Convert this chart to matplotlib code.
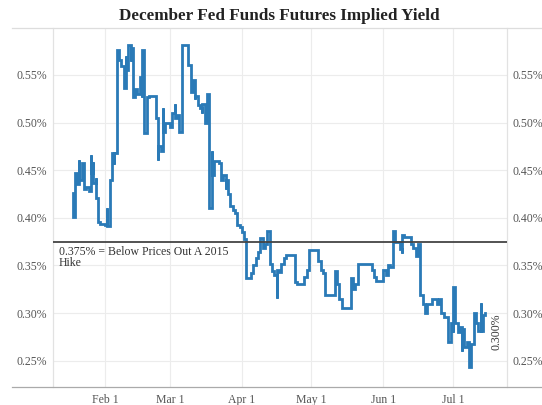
import matplotlib
matplotlib.use("Agg")
import matplotlib.pyplot as plt
from matplotlib.lines import Line2D
import pandas as pd

# December fed funds futures implied yield (%), 2015
dates = [
    "01-18", "01-18", "01-19", "01-19", "01-20", "01-21", "01-21", "01-22", "01-23", "01-24",
    "01-25", "01-26", "01-26", "01-27", "01-27", "01-28", "01-28", "01-29", "01-30", "01-31",
    "02-01", "02-02", "02-02", "02-03", "02-04", "02-04", "02-05", "02-05", "02-06", "02-07",
    "02-08", "02-09", "02-10", "02-10", "02-11", "02-12", "02-12", "02-13", "02-14", "02-15",
    "02-16", "02-16", "02-17", "02-17", "02-18", "02-18", "02-19", "02-19", "02-20", "02-21",
    "02-22", "02-23", "02-23", "02-24", "02-24", "02-25", "02-26", "02-26", "02-27", "03-01",
    "03-02", "03-03", "03-03", "03-04", "03-05", "03-06", "03-09", "03-09", "03-10", "03-10",
    "03-10", "03-11", "03-12", "03-12", "03-13", "03-14", "03-15", "03-15", "03-16", "03-17",
    "03-17", "03-18", "03-18", "03-19", "03-19", "03-20", "03-22", "03-23", "03-23", "03-24",
    "03-25", "03-25", "03-26", "03-27", "03-28", "03-29", "03-30", "03-30", "03-31", "04-01",
    "04-02", "04-03", "04-05", "04-06", "04-07", "04-08", "04-09", "04-10", "04-11", "04-12",
    "04-13", "04-14", "04-15", "04-16", "04-16", "04-17", "04-18", "04-19", "04-20", "04-21",
    "04-23", "04-24", "04-25", "04-27", "04-28", "04-29", "04-30", "05-03", "05-04", "05-05",
    "05-06", "05-07", "05-10", "05-11", "05-12", "05-13", "05-14", "05-17", "05-18", "05-19",
    "05-20", "05-21", "05-26", "05-27", "05-28", "05-29", "05-31", "06-01", "06-02", "06-03",
    "06-04", "06-05", "06-06", "06-08", "06-09", "06-09", "06-10", "06-12", "06-13", "06-14",
    "06-15", "06-16", "06-17", "06-17", "06-18", "06-19", "06-20", "06-22", "06-23", "06-24",
    "06-25", "06-26", "06-27", "06-28", "06-29", "06-30", "07-01", "07-01", "07-02", "07-03",
    "07-04", "07-05", "07-05", "07-06", "07-07", "07-08", "07-08", "07-09", "07-10", "07-11",
    "07-12", "07-13", "07-13", "07-14", "07-15",
]
yields = [
    0.426, 0.401, 0.430, 0.447, 0.435, 0.461, 0.440, 0.458, 0.430, 0.432,
    0.428, 0.466, 0.447, 0.459, 0.437, 0.442, 0.421, 0.396, 0.393, 0.393,
    0.392, 0.410, 0.391, 0.440, 0.452, 0.468, 0.456, 0.468, 0.576, 0.566,
    0.559, 0.536, 0.570, 0.555, 0.581, 0.565, 0.578, 0.527, 0.535, 0.530,
    0.540, 0.548, 0.527, 0.576, 0.555, 0.489, 0.515, 0.527, 0.528, 0.528,
    0.528, 0.520, 0.505, 0.461, 0.475, 0.470, 0.515, 0.490, 0.500, 0.495,
    0.510, 0.520, 0.505, 0.508, 0.490, 0.581, 0.581, 0.560, 0.545, 0.556,
    0.532, 0.545, 0.525, 0.528, 0.518, 0.515, 0.510, 0.520, 0.500, 0.515,
    0.530, 0.508, 0.410, 0.470, 0.445, 0.460, 0.458, 0.455, 0.440, 0.445,
    0.430, 0.440, 0.425, 0.412, 0.408, 0.405, 0.397, 0.392, 0.390, 0.385,
    0.378, 0.337, 0.342, 0.350, 0.358, 0.364, 0.379, 0.368, 0.372, 0.386,
    0.351, 0.344, 0.340, 0.316, 0.345, 0.343, 0.352, 0.358, 0.361, 0.361,
    0.361, 0.333, 0.331, 0.331, 0.338, 0.345, 0.366, 0.366, 0.355, 0.345,
    0.342, 0.319, 0.319, 0.344, 0.330, 0.315, 0.305, 0.305, 0.337, 0.325,
    0.330, 0.351, 0.351, 0.345, 0.338, 0.334, 0.334, 0.345, 0.340, 0.350,
    0.348, 0.386, 0.375, 0.367, 0.363, 0.382, 0.380, 0.380, 0.372, 0.368,
    0.360, 0.372, 0.372, 0.319, 0.310, 0.300, 0.310, 0.315, 0.315, 0.310,
    0.315, 0.300, 0.296, 0.296, 0.270, 0.290, 0.280, 0.327, 0.290, 0.280,
    0.285, 0.260, 0.283, 0.264, 0.270, 0.255, 0.243, 0.268, 0.300, 0.290,
    0.281, 0.311, 0.281, 0.298, 0.300,
]

hike_level = 0.375
hike_text = "0.375% = Below Prices Out A 2015\nHike"
y_ticks = [0.25, 0.30, 0.35, 0.40, 0.45, 0.50, 0.55]
month_ticks = ["2015-02-01", "2015-03-01", "2015-04-01", "2015-05-01", "2015-06-01", "2015-07-01"]
month_labels = ["Feb 1", "Mar 1", "Apr 1", "May 1", "Jun 1", "Jul 1"]

x = pd.to_datetime(["2015-" + d for d in dates])

plt.rcParams["font.family"] = ["Liberation Serif", "DejaVu Serif"]

fig = plt.figure(figsize=(5.42, 4.05), dpi=100)
ax = fig.add_axes([0.0978, 0.0452, 0.8376, 0.885])

ax.plot(x, yields, color="#2a7ab7", lw=2.0, drawstyle="steps-post",
        solid_joinstyle="miter", zorder=3)
ax.axhline(hike_level, color="#444444", lw=1.3, zorder=4)

ax.text(pd.Timestamp("2015-01-12"), hike_level - 0.0045, hike_text,
        ha="left", va="top", fontsize=8.5, color="#333333", linespacing=0.95)
ax.annotate(f"{yields[-1]:.3f}%", xy=(x[-1], yields[-1]), xytext=(3.5, 0),
            textcoords="offset points", rotation=90, ha="left", va="top",
            fontsize=8.5, color="#333333")

ax.set_xlim(pd.Timestamp("2015-01-09 14:00"), pd.Timestamp("2015-07-24 08:00"))
ax.set_ylim(0.2227, 0.599)

ax.set_yticks(y_ticks)
ax.set_yticklabels([f"{v:.2f}%" for v in y_ticks])
ax.set_xticks(pd.to_datetime(month_ticks))
ax.set_xticklabels(month_labels)

ax.tick_params(axis="both", length=0, labelsize=8.5, labelcolor="#555555")
ax.tick_params(axis="y", pad=4, labelright=True)
ax.tick_params(axis="x", pad=5)

ax.grid(True, color="#ececec", lw=0.8, zorder=0)
for side in ["top", "bottom"]:
    ax.spines[side].set_visible(False)
for side in ["left", "right"]:
    ax.spines[side].set_color("#e2e2e2")
    ax.spines[side].set_linewidth(0.9)

# rules under the title and along the bottom
fig.add_artist(Line2D([12 / 542, 1.0], [0.930, 0.930], color="#dddddd", lw=0.9))
fig.add_artist(Line2D([12 / 542, 1.0], [0.0452, 0.0452], color="#aaaaaa", lw=0.9))

fig.text(0.515, 0.960, "December Fed Funds Futures Implied Yield",
         ha="center", va="center", fontsize=12.3, fontweight="bold", color="#222222")

fig.savefig("out.png", dpi=100, facecolor="white")
